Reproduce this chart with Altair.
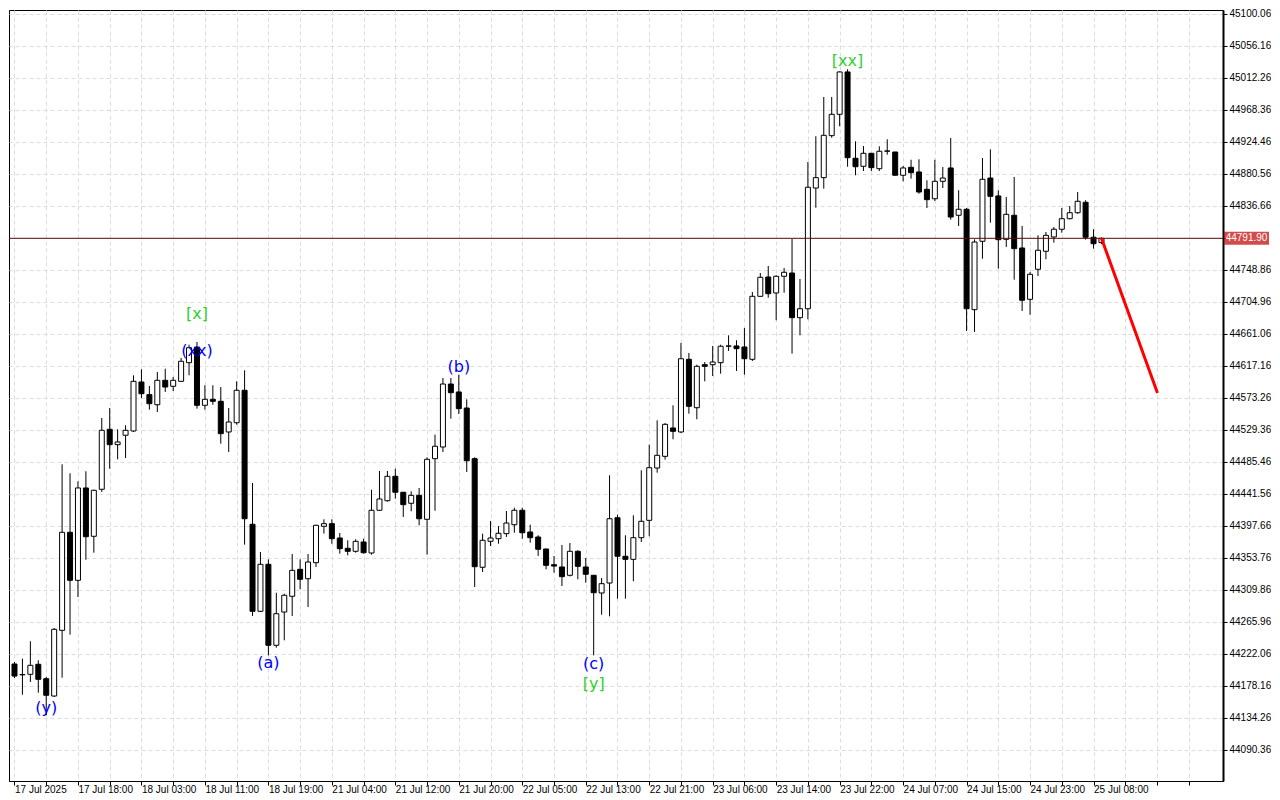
import altair as alt
import pandas as pd

# ---- candle data (hourly bars, index 0 = 17 Jul 2025 10:00) ----
opens = [44207.9, 44193.5, 44193.8, 44207.5, 44187.7, 44164.0, 44254.1, 44388.6, 44322.7, 44449.4,
         44383.1, 44447.6, 44529.9, 44508.8, 44521.7, 44527.6, 44594.8, 44577.4, 44563.6, 44597.1,
         44588.9, 44595.7, 44621.3, 44642.8, 44562.8, 44571.0, 44568.3, 44526.2, 44538.9, 44583.4,
         44399.6, 44280.2, 44344.7, 44233.6, 44279.2, 44300.8, 44337.8, 44324.9, 44346.9, 44396.8,
         44400.4, 44380.8, 44366.6, 44362.5, 44375.3, 44360.2, 44418.8, 44431.9, 44465.4, 44443.5,
         44428.4, 44439.3, 44406.4, 44489.6, 44505.6, 44592.0, 44581.1, 44559.1, 44489.6, 44340.6,
         44376.2, 44379.8, 44386.7, 44399.0, 44418.8, 44389.0, 44382.1, 44365.7, 44344.1, 44341.0,
         44329.6, 44362.5, 44341.0, 44329.6, 44305.3, 44319.0, 44408.6, 44355.7, 44351.5, 44381.2,
         44405.0, 44476.8, 44492.8, 44531.7, 44526.2, 44625.9, 44559.5, 44618.5, 44618.5, 44621.3,
         44643.8, 44644.2, 44642.8, 44625.9, 44712.3, 44738.8, 44716.9, 44739.8, 44744.3, 44683.0,
         44695.3, 44860.9, 44875.1, 44932.7, 44962.0, 45020.1, 44901.7, 44890.7, 44908.5, 44887.4,
         44911.3, 44910.3, 44878.4, 44889.3, 44882.9, 44859.1, 44846.2, 44870.1, 44888.4, 44823.5,
         44831.7, 44694.0, 44787.8, 44874.6, 44850.0, 44790.5, 44823.5, 44778.6, 44708.2, 44749.4,
         44774.1, 44793.7, 44804.3, 44818.8, 44827.0, 44841.3, 44793.3, 44786.0]
highs = [44210.6, 44215.2, 44239.1, 44213.0, 44190.1, 44257.3, 44481.9, 44469.5, 44458.5, 44472.3,
         44447.0, 44545.4, 44559.1, 44529.9, 44535.4, 44604.0, 44612.2, 44589.3, 44608.5, 44613.0,
         44601.6, 44627.7, 44645.9, 44649.7, 44590.3, 44590.3, 44587.9, 44559.1, 44595.7, 44610.8,
         44456.2, 44361.6, 44351.5, 44305.7, 44304.4, 44358.8, 44351.5, 44358.8, 44399.0, 44406.4,
         44406.4, 44387.6, 44377.6, 44379.0, 44379.8, 44447.0, 44472.7, 44472.7, 44475.8, 44444.0,
         44444.8, 44449.4, 44491.5, 44522.5, 44600.3, 44600.3, 44604.8, 44571.0, 44491.5, 44386.7,
         44404.1, 44397.2, 44417.8, 44422.3, 44422.3, 44399.0, 44384.5, 44366.0, 44356.1, 44371.2,
         44373.9, 44363.9, 44353.3, 44330.0, 44325.9, 44466.8, 44412.7, 44384.5, 44411.9, 44473.6,
         44508.8, 44542.2, 44538.5, 44562.8, 44648.3, 44634.6, 44618.5, 44622.2, 44644.2, 44645.9,
         44658.8, 44652.0, 44668.9, 44718.2, 44744.3, 44753.9, 44741.2, 44751.2, 44791.0, 44736.1,
         44896.6, 44931.9, 44985.8, 44985.8, 45021.0, 45023.8, 44925.0, 44918.5, 44909.0, 44918.1,
         44927.7, 44910.5, 44891.1, 44899.7, 44900.3, 44871.5, 44899.7, 44889.7, 44929.5, 44857.8,
         44833.5, 44790.5, 44902.1, 44914.0, 44857.8, 44848.6, 44876.0, 44808.8, 44745.7, 44796.0,
         44800.6, 44807.4, 44833.5, 44836.2, 44855.4, 44844.1, 44804.3, 44793.0]
lows = [44188.7, 44165.8, 44183.2, 44168.5, 44137.5, 44162.6, 44189.1, 44248.1, 44299.8, 44351.0,
        44360.6, 44443.9, 44475.8, 44488.7, 44490.5, 44526.2, 44572.8, 44556.8, 44553.6, 44581.1,
        44582.4, 44594.8, 44604.0, 44558.2, 44556.8, 44563.6, 44510.1, 44498.7, 44536.2, 44371.6,
        44273.8, 44279.5, 44219.8, 44230.3, 44240.4, 44273.8, 44310.4, 44286.1, 44341.0, 44386.7,
        44372.9, 44359.2, 44357.0, 44360.6, 44359.2, 44357.9, 44418.0, 44430.6, 44434.7, 44409.6,
        44417.4, 44398.2, 44357.9, 44418.2, 44498.7, 44544.4, 44550.9, 44471.3, 44313.5, 44334.1,
        44369.8, 44372.9, 44382.1, 44388.0, 44379.8, 44374.3, 44356.1, 44337.8, 44333.2, 44314.9,
        44328.0, 44324.1, 44319.4, 44219.8, 44275.5, 44273.3, 44297.5, 44297.5, 44321.4, 44375.3,
        44383.1, 44470.3, 44488.2, 44516.2, 44524.8, 44551.3, 44543.6, 44595.7, 44603.0, 44606.2,
        44637.3, 44609.9, 44604.8, 44623.6, 44711.5, 44710.4, 44679.4, 44717.3, 44633.6, 44658.8,
        44680.8, 44833.9, 44860.0, 44929.9, 44945.6, 44890.1, 44878.4, 44884.2, 44884.2, 44884.2,
        44906.6, 44878.0, 44870.1, 44873.7, 44853.1, 44833.5, 44843.1, 44860.9, 44817.4, 44808.8,
        44664.7, 44663.4, 44763.9, 44813.3, 44750.2, 44780.0, 44735.1, 44692.2, 44687.1, 44740.2,
        44763.1, 44785.9, 44799.6, 44818.0, 44825.6, 44790.0, 44777.7, 44784.0]
closes = [44191.4, 44193.0, 44206.1, 44186.9, 44165.0, 44255.5, 44388.6, 44322.7, 44449.4, 44382.5,
          44446.2, 44528.5, 44508.8, 44512.5, 44528.5, 44595.7, 44578.7, 44565.0, 44597.1, 44587.9,
          44597.1, 44623.2, 44641.8, 44562.8, 44571.0, 44568.3, 44523.9, 44539.9, 44583.4, 44407.2,
          44280.2, 44344.7, 44233.6, 44276.9, 44302.2, 44336.4, 44324.1, 44347.8, 44398.2, 44400.4,
          44379.8, 44366.1, 44362.5, 44376.2, 44360.6, 44418.8, 44434.3, 44465.4, 44443.5, 44426.5,
          44439.3, 44407.2, 44488.7, 44506.6, 44592.0, 44580.1, 44558.2, 44486.8, 44341.4, 44377.6,
          44380.8, 44387.2, 44401.3, 44418.8, 44388.0, 44381.2, 44365.3, 44343.3, 44342.3, 44327.7,
          44362.5, 44341.9, 44331.0, 44305.7, 44318.1, 44407.2, 44355.7, 44351.5, 44381.2, 44403.7,
          44477.2, 44494.2, 44536.7, 44527.1, 44626.7, 44561.4, 44616.3, 44616.3, 44622.2, 44643.8,
          44644.3, 44640.5, 44626.7, 44712.3, 44738.4, 44715.9, 44739.8, 44745.3, 44683.0, 44695.3,
          44861.9, 44875.1, 44933.2, 44962.0, 45020.1, 44902.5, 44890.1, 44908.5, 44888.8, 44911.3,
          44911.8, 44878.4, 44888.4, 44881.9, 44855.4, 44844.9, 44870.1, 44874.6, 44821.1, 44831.7,
          44695.3, 44786.8, 44872.9, 44849.5, 44790.0, 44824.8, 44777.7, 44706.9, 44742.5, 44775.5,
          44796.0, 44804.3, 44818.8, 44827.0, 44842.7, 44793.3, 44784.5, 44791.9]

# time labels, one every 8 bars
time_labels = ["17 Jul 2025", "17 Jul 18:00", "18 Jul 03:00", "18 Jul 11:00", "18 Jul 19:00",
               "21 Jul 04:00", "21 Jul 12:00", "21 Jul 20:00", "22 Jul 05:00", "22 Jul 13:00",
               "22 Jul 21:00", "23 Jul 06:00", "23 Jul 14:00", "23 Jul 22:00", "24 Jul 07:00",
               "24 Jul 15:00", "24 Jul 23:00", "25 Jul 08:00"]

price_ticks = [44090.36, 44134.26, 44178.16, 44222.06, 44265.96, 44309.86, 44353.76, 44397.66,
               44441.56, 44485.46, 44529.36, 44573.26, 44617.16, 44661.06, 44704.96, 44748.86,
               44792.76, 44836.66, 44880.56, 44924.46, 44968.36, 45012.26, 45056.16, 45100.06]

current_price = 44791.90

# forecast arrow (bar index, price)
fc_bar = [137, 144.06]
fc_price = [44791.9, 44579.7]

# wave labels
wave_text = ["(y)", "[x]", "(xx)", "(a)", "(b)", "(c)", "[y]", "[xx]"]
wave_bar = [4, 23, 23, 32, 56, 73, 73, 105]
wave_price = [44147.5, 44688.1, 44637.3, 44209.3, 44615.4, 44207.9, 44180.5, 45035.2]
wave_color = ["#0000ff", "#32cd32", "#0000ff", "#0000ff", "#0000ff", "#0000ff", "#32cd32", "#32cd32"]

df = pd.DataFrame({"k": list(range(len(opens))), "open": opens, "high": highs,
                   "low": lows, "close": closes})

xscale = alt.Scale(domain=[-0.0625, 151.6875], nice=False, zero=False)
yscale = alt.Scale(domain=[44047.4, 45105.1], nice=False, zero=False)

xvals = list(range(0, 152, 4))
lab_list = ",".join("'" + s + "'" for s in time_labels)
xaxis = alt.Axis(
    values=xvals,
    orient="bottom", title=None,
    grid=True, gridColor="#dcdcdc", gridDash=[4, 3], gridWidth=1,
    labelExpr="(datum.value % 8 == 0 && datum.value <= 136) ? [" + lab_list + "][datum.value / 8] : ''",
    labelAlign="left", labelBaseline="top", labelFont="Liberation Sans", labelFontSize=10,
    labelColor="black", labelPadding=-1, labelOverlap=False, labelFlush=False,
    tickColor="black", tickSize=4,
    domain=True, domainColor="black", domainWidth=1,
)
yaxis = alt.Axis(
    values=price_ticks, orient="right", title=None,
    grid=True, gridColor="#dcdcdc", gridDash=[4, 3], gridWidth=1,
    labelExpr="abs(datum.value - 44792.76) < 0.01 ? '' : format(datum.value, '.2f')",
    labelFont="Liberation Sans", labelFontSize=10, labelColor="black", labelPadding=2,
    tickColor="black", tickSize=4, domain=True, domainColor="black", domainWidth=2,
)


def X(field):
    return alt.X(field, scale=xscale, axis=xaxis)


def Y(field):
    return alt.Y(field, scale=yscale, axis=yaxis)


base = alt.Chart(df)
wicks = base.mark_rule(color="black", strokeWidth=1, clip=True).encode(
    x=X("k:Q"), y=Y("low:Q"), y2="high:Q",
)
bodies = base.mark_bar(size=5, stroke="black", strokeWidth=1, clip=True).encode(
    x=X("k:Q"), y=Y("open:Q"), y2="close:Q",
    fill=alt.condition("datum.close >= datum.open", alt.value("white"), alt.value("black")),
)

cp = pd.DataFrame({"p": [current_price], "label": [f"{current_price:.2f}"]})
price_line = alt.Chart(cp).mark_rule(color="#5a0a0a", strokeWidth=1).encode(y=Y("p:Q"))
tag_box = alt.Chart(cp).mark_tick(orient="horizontal", size=45, thickness=13, color="#c00000").encode(
    x=alt.value(1237.5), y=Y("p:Q")
)
tag_text = alt.Chart(cp).mark_text(color="white", font="Liberation Sans", fontSize=10,
                                   align="center", baseline="middle").encode(
    x=alt.value(1237.5), y=Y("p:Q"), text="label:N"
)

fc = pd.DataFrame({"k": fc_bar, "p": fc_price})
forecast = alt.Chart(fc).mark_line(color="#ff0000", strokeWidth=3).encode(
    x=X("k:Q"), y=Y("p:Q"),
)

wv = pd.DataFrame({"k": wave_bar, "p": wave_price, "t": wave_text, "c": wave_color})
waves = alt.Chart(wv).mark_text(font="DejaVu Sans", fontSize=16, align="center",
                                baseline="middle").encode(
    x=X("k:Q"), y=Y("p:Q"),
    text="t:N",
    color=alt.Color("c:N", scale=None),
)

chart = alt.layer(wicks, bodies, price_line, forecast, waves, tag_box, tag_text).properties(
    width=1214, height=771,
    padding={"left": 0, "top": 0, "right": 0, "bottom": 0},
    background="white",
).configure_view(stroke="black", strokeWidth=1)

chart.save("out.html", embed_options={"renderer": "svg", "actions": False})
